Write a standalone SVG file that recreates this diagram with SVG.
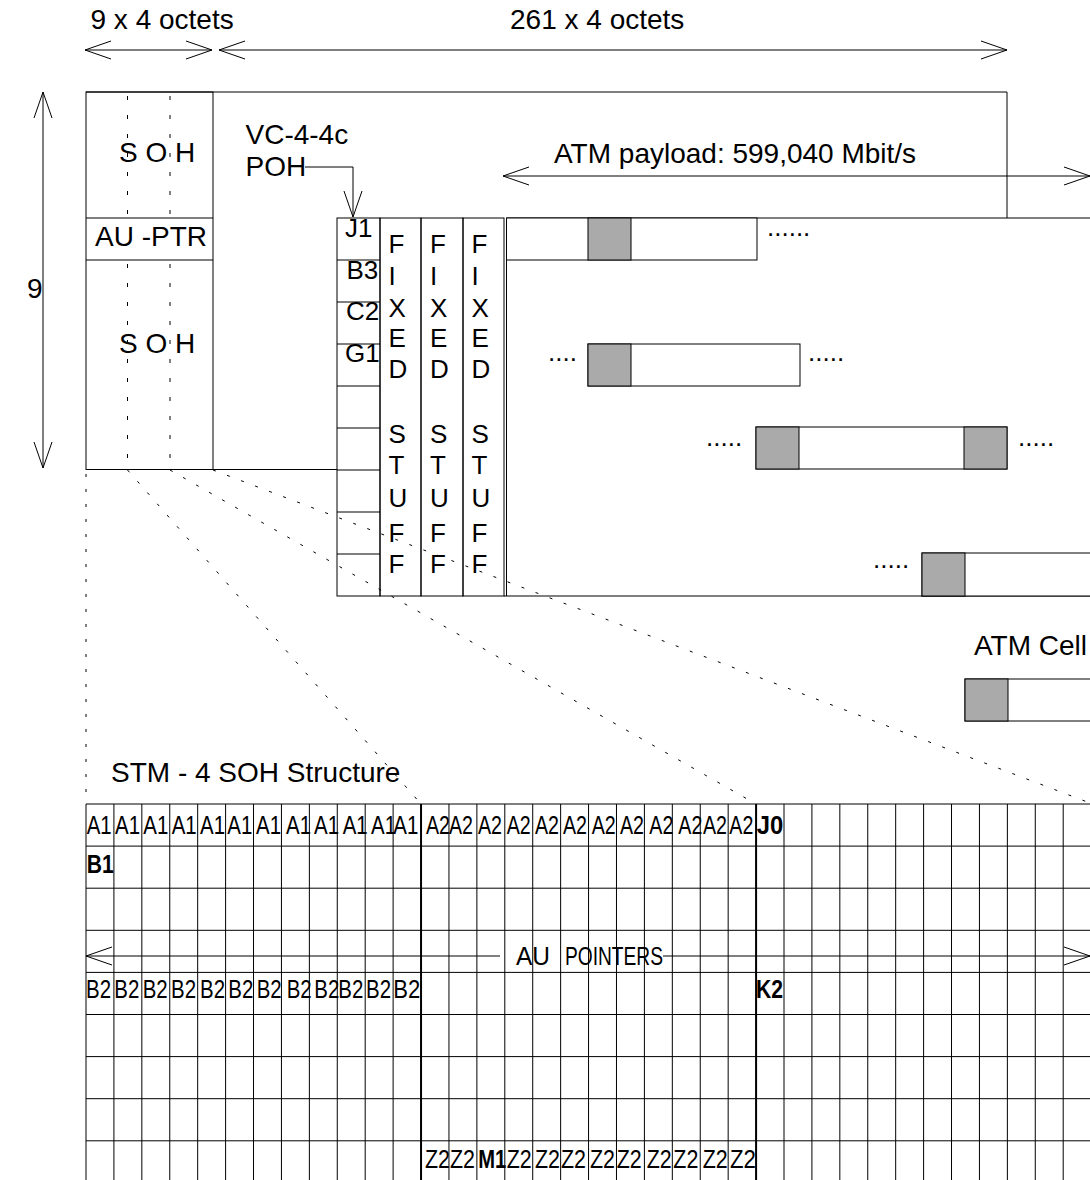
<svg xmlns="http://www.w3.org/2000/svg" width="1090" height="1180" viewBox="0 0 1090 1180">
<style>
.t{font-family:"Liberation Sans",Arial,sans-serif;font-size:28px;fill:#000}
.s26{font-size:26px}
.b{font-weight:bold}
.ln{stroke:#000;stroke-width:1;fill:none}
.thick{stroke:#000;stroke-width:2;fill:none}
.dd{stroke:#000;stroke-width:1;stroke-dasharray:3 12;fill:none}
.dv{stroke:#000;stroke-width:1;stroke-dasharray:4 15;fill:none}
.cell{fill:#fff;stroke:#000;stroke-width:1}
.hdr{fill:#aaa;stroke:#000;stroke-width:1}
</style>
<defs>
<marker id="ah" markerUnits="userSpaceOnUse" markerWidth="30" markerHeight="20" refX="26" refY="9" orient="auto-start-reverse" overflow="visible">
<path d="M0,0 L26,9 L0,18" fill="none" stroke="#000" stroke-width="1"/>
</marker>
</defs>
<rect width="1090" height="1180" fill="#fff"/>

<g id="dimension-labels">
<text class="t" x="90.5" y="29">9 x 4 octets</text>
<text class="t" x="510" y="29">261 x 4 octets</text>
<text class="t" x="27" y="298">9</text>
</g>

<g id="stm4-frame">
<path class="ln" d="M86,92H1007V218"/>
<path class="ln" d="M213,469.5H337"/>
</g>

<g id="soh-block">
<rect class="ln" x="86" y="92" width="127" height="377.5"/>
<path class="ln" d="M86,218H213M86,260H213"/>
<path class="dv" d="M127.5,96V218M170,96V218M127.5,264V469M170,264V469"/>
<text class="t" x="119" y="161.5">S O H</text>
<text class="t" x="95" y="246">AU -PTR</text>
<text class="t" x="119" y="353">S O H</text>
</g>

<g id="vc4-4c-poh-label">
<text class="t" x="245.5" y="144">VC-4-4c</text>
<text class="t" x="245.5" y="176">POH</text>
</g>

<g id="poh-column">
<rect class="ln" x="337" y="218" width="43" height="378"/>
<path class="ln" d="M337,260H380M337,302H380M337,344H380M337,386H380M337,428H380M337,470H380M337,512H380M337,554H380"/>
<text class="t s26" x="345" y="237">J1</text>
<text class="t s26" x="346.5" y="279">B3</text>
<text class="t s26" x="346" y="320">C2</text>
<text class="t s26" x="345" y="362">G1</text>
</g>

<g id="fixed-stuff-1">
<rect class="ln" x="380" y="218" width="41" height="378"/>
<text class="t s26"><tspan x="388.5" y="253">F</tspan><tspan x="388.5" y="285">I</tspan><tspan x="388.5" y="317">X</tspan><tspan x="388.5" y="347">E</tspan><tspan x="388.5" y="378">D</tspan><tspan x="388.5" y="443">S</tspan><tspan x="388.5" y="474">T</tspan><tspan x="388.5" y="507">U</tspan><tspan x="388.5" y="542">F</tspan><tspan x="388.5" y="573">F</tspan></text>
</g>
<g id="fixed-stuff-2">
<rect class="ln" x="421" y="218" width="42" height="378"/>
<text class="t s26"><tspan x="430" y="253">F</tspan><tspan x="430" y="285">I</tspan><tspan x="430" y="317">X</tspan><tspan x="430" y="347">E</tspan><tspan x="430" y="378">D</tspan><tspan x="430" y="443">S</tspan><tspan x="430" y="474">T</tspan><tspan x="430" y="507">U</tspan><tspan x="430" y="542">F</tspan><tspan x="430" y="573">F</tspan></text>
</g>
<g id="fixed-stuff-3">
<rect class="ln" x="463" y="218" width="41" height="378"/>
<text class="t s26"><tspan x="471.5" y="253">F</tspan><tspan x="471.5" y="285">I</tspan><tspan x="471.5" y="317">X</tspan><tspan x="471.5" y="347">E</tspan><tspan x="471.5" y="378">D</tspan><tspan x="471.5" y="443">S</tspan><tspan x="471.5" y="474">T</tspan><tspan x="471.5" y="507">U</tspan><tspan x="471.5" y="542">F</tspan><tspan x="471.5" y="573">F</tspan></text>
</g>

<g id="atm-payload">
<path class="ln" d="M506.5,218V596M506.5,218H1090M504,596H1090"/>
<text class="t" x="554" y="163">ATM payload: 599,040 Mbit/s</text>
</g>

<g id="cell-row1">
<rect class="cell" x="506.5" y="218" width="250.5" height="42"/>
<rect class="hdr" x="588" y="218" width="43" height="42"/>
<text class="t s26" x="767" y="236">......</text>
</g>
<g id="cell-row4">
<text class="t s26" x="548" y="361">....</text>
<rect class="cell" x="588" y="344" width="212" height="42"/>
<rect class="hdr" x="588" y="344" width="43" height="42"/>
<text class="t s26" x="808" y="361">.....</text>
</g>
<g id="cell-row6">
<text class="t s26" x="706" y="446">.....</text>
<rect class="cell" x="756" y="427" width="251" height="42"/>
<rect class="hdr" x="756" y="427" width="43" height="42"/>
<rect class="hdr" x="964" y="427" width="43" height="42"/>
<text class="t s26" x="1018" y="446">.....</text>
</g>
<g id="cell-row9">
<text class="t s26" x="873" y="568">.....</text>
<rect class="cell" x="922" y="553" width="180" height="43"/>
<rect class="hdr" x="922" y="553" width="43" height="43"/>
</g>

<g id="atm-cell">
<text class="t" x="974" y="655" textLength="113" lengthAdjust="spacingAndGlyphs">ATM Cell</text>
<rect class="cell" x="965" y="679" width="140" height="42"/>
<rect class="hdr" x="965" y="679" width="43" height="42"/>
</g>

<g id="stm4-soh-grid">
<text class="t" x="111" y="782">STM - 4 SOH Structure</text>
<path class="ln" d="M86,804V1180M113.92,804V1180M141.84,804V1180M169.76,804V1180M197.68,804V1180M225.6,804V1180M253.52,804V1180M281.44,804V1180M309.36,804V1180M337.28,804V1180M365.2,804V1180M393.12,804V1180M448.96,804V1180M476.88,804V1180M504.8,804V1180M532.72,804V1180M560.64,804V1180M588.56,804V1180M616.48,804V1180M644.4,804V1180M672.32,804V1180M700.24,804V1180M728.16,804V1180M784,804V1180M811.92,804V1180M839.84,804V1180M867.76,804V1180M895.68,804V1180M923.6,804V1180M951.52,804V1180M979.44,804V1180M1007.36,804V1180M1035.28,804V1180M1063.2,804V1180"/>
<path class="thick" d="M421.04,804V1180M756.08,804V1180"/>
<path class="ln" d="M86,804H1090M86,846.1H1090M86,888.2H1090M86,930.3H1090M86,972.4H1090M86,1014.5H1090M86,1056.6H1090M86,1098.7H1090M86,1140.8H1090"/>
<g class="t s26">
<text x="86.7" y="834" textLength="25" lengthAdjust="spacingAndGlyphs">A1</text>
<text x="115" y="834" textLength="25" lengthAdjust="spacingAndGlyphs">A1</text>
<text x="143.3" y="834" textLength="25" lengthAdjust="spacingAndGlyphs">A1</text>
<text x="171.7" y="834" textLength="25" lengthAdjust="spacingAndGlyphs">A1</text>
<text x="200" y="834" textLength="25" lengthAdjust="spacingAndGlyphs">A1</text>
<text x="227.3" y="834" textLength="25" lengthAdjust="spacingAndGlyphs">A1</text>
<text x="256" y="834" textLength="25" lengthAdjust="spacingAndGlyphs">A1</text>
<text x="286" y="834" textLength="25" lengthAdjust="spacingAndGlyphs">A1</text>
<text x="314" y="834" textLength="25" lengthAdjust="spacingAndGlyphs">A1</text>
<text x="342.7" y="834" textLength="25" lengthAdjust="spacingAndGlyphs">A1</text>
<text x="371" y="834" textLength="25" lengthAdjust="spacingAndGlyphs">A1</text>
<text x="393.3" y="834" textLength="25" lengthAdjust="spacingAndGlyphs">A1</text>
<text x="426" y="834" textLength="24" lengthAdjust="spacingAndGlyphs">A2</text>
<text x="449" y="834" textLength="24" lengthAdjust="spacingAndGlyphs">A2</text>
<text x="478" y="834" textLength="24" lengthAdjust="spacingAndGlyphs">A2</text>
<text x="506.7" y="834" textLength="24" lengthAdjust="spacingAndGlyphs">A2</text>
<text x="535" y="834" textLength="24" lengthAdjust="spacingAndGlyphs">A2</text>
<text x="563" y="834" textLength="24" lengthAdjust="spacingAndGlyphs">A2</text>
<text x="591.7" y="834" textLength="24" lengthAdjust="spacingAndGlyphs">A2</text>
<text x="620" y="834" textLength="24" lengthAdjust="spacingAndGlyphs">A2</text>
<text x="649.3" y="834" textLength="24" lengthAdjust="spacingAndGlyphs">A2</text>
<text x="678.3" y="834" textLength="24" lengthAdjust="spacingAndGlyphs">A2</text>
<text x="703" y="834" textLength="24" lengthAdjust="spacingAndGlyphs">A2</text>
<text x="729.3" y="834" textLength="24" lengthAdjust="spacingAndGlyphs">A2</text>
<text class="b" x="756.7" y="834" textLength="26.5" lengthAdjust="spacingAndGlyphs">J0</text>
<text class="b" x="86.7" y="873" textLength="27" lengthAdjust="spacingAndGlyphs">B1</text>
<text x="86" y="998" textLength="25" lengthAdjust="spacingAndGlyphs">B2</text>
<text x="114.3" y="998" textLength="25" lengthAdjust="spacingAndGlyphs">B2</text>
<text x="142.7" y="998" textLength="25" lengthAdjust="spacingAndGlyphs">B2</text>
<text x="171" y="998" textLength="25" lengthAdjust="spacingAndGlyphs">B2</text>
<text x="200" y="998" textLength="25" lengthAdjust="spacingAndGlyphs">B2</text>
<text x="228.3" y="998" textLength="25" lengthAdjust="spacingAndGlyphs">B2</text>
<text x="256.7" y="998" textLength="25" lengthAdjust="spacingAndGlyphs">B2</text>
<text x="286.7" y="998" textLength="25" lengthAdjust="spacingAndGlyphs">B2</text>
<text x="314.3" y="998" textLength="25" lengthAdjust="spacingAndGlyphs">B2</text>
<text x="338.3" y="998" textLength="25" lengthAdjust="spacingAndGlyphs">B2</text>
<text x="366" y="998" textLength="25" lengthAdjust="spacingAndGlyphs">B2</text>
<text x="393.3" y="998" textLength="27" lengthAdjust="spacingAndGlyphs">B2</text>
<text class="b" x="756" y="998" textLength="27" lengthAdjust="spacingAndGlyphs">K2</text>
<text x="425" y="1168" textLength="25" lengthAdjust="spacingAndGlyphs">Z2</text>
<text x="450" y="1168" textLength="25" lengthAdjust="spacingAndGlyphs">Z2</text>
<text class="b" x="478.3" y="1168" textLength="28" lengthAdjust="spacingAndGlyphs">M1</text>
<text x="506.7" y="1168" textLength="25" lengthAdjust="spacingAndGlyphs">Z2</text>
<text x="535" y="1168" textLength="25" lengthAdjust="spacingAndGlyphs">Z2</text>
<text x="561" y="1168" textLength="25" lengthAdjust="spacingAndGlyphs">Z2</text>
<text x="590" y="1168" textLength="25" lengthAdjust="spacingAndGlyphs">Z2</text>
<text x="616.7" y="1168" textLength="25" lengthAdjust="spacingAndGlyphs">Z2</text>
<text x="646.7" y="1168" textLength="25" lengthAdjust="spacingAndGlyphs">Z2</text>
<text x="673.3" y="1168" textLength="25" lengthAdjust="spacingAndGlyphs">Z2</text>
<text x="702.7" y="1168" textLength="25" lengthAdjust="spacingAndGlyphs">Z2</text>
<text x="730" y="1168" textLength="26" lengthAdjust="spacingAndGlyphs">Z2</text>
</g>
<text class="t s26" y="965"><tspan x="516" textLength="34" lengthAdjust="spacingAndGlyphs">AU</tspan><tspan x="565" textLength="98" lengthAdjust="spacingAndGlyphs">POINTERS</tspan></text>
</g>

<g id="connectors">
<path class="ln" d="M85,50H212" marker-start="url(#ah)" marker-end="url(#ah)"/>
<path class="ln" d="M219,50H1007" marker-start="url(#ah)" marker-end="url(#ah)"/>
<path class="ln" d="M43,92V468" marker-start="url(#ah)" marker-end="url(#ah)"/>
<path class="ln" d="M305,167H353V217" marker-end="url(#ah)"/>
<path class="ln" d="M503,176H1090" marker-start="url(#ah)" marker-end="url(#ah)"/>
<path class="ln" d="M86,956H500" marker-start="url(#ah)"/>
<path class="ln" d="M663,956H1090" marker-end="url(#ah)"/>
<path class="dd" d="M86,474V804"/>
<path class="dd" d="M127.5,470L421,804"/>
<path class="dd" d="M170,470L756,804"/>
<path class="dd" d="M213,470L1090,803"/>
</g>
</svg>
